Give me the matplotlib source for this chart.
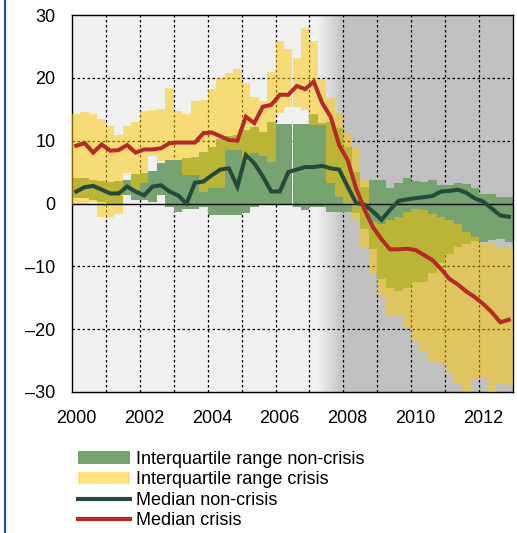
import matplotlib.pyplot as plt
import numpy as np
from matplotlib.lines import Line2D
from matplotlib.patches import Patch

plt.rcParams['font.family'] = ['Liberation Sans', 'DejaVu Sans']

# quarterly values, 2000Q1 .. 2012Q4
# interquartile range, non-crisis countries
nc_low = [0.8, 0.8, 0.5, 0.2, -0.3, -0.3, 1.3, 0.5, 0.5, 0.3, 1.3, -0.5,
          -1.3, -0.8, -0.9, -0.6, -1.9, -1.9, -1.9, -1.9, -1.5, -0.5, -0.1, -0.2,
          -0.2, -0.2, -0.5, -1.1, -0.6, -0.6, -1.3, -1.3, -1.3, -1.5, -4.0, -7.2,
          -12.0, -13.5, -14.0, -13.5, -12.5, -12.5, -11.0, -9.5, -8.0, -7.0, -6.5, -6.0,
          -6.2, -5.8, -5.6, -6.2]
nc_high = [4.0, 4.1, 3.8, 3.6, 3.5, 3.6, 3.8, 4.7, 4.8, 5.2, 6.5, 6.9,
           7.0, 7.2, 7.4, 8.2, 9.0, 10.2, 10.7, 10.9, 11.7, 12.1, 11.4, 13.0,
           12.6, 12.6, 12.6, 12.7, 14.3, 12.8, 13.0, 12.0, 9.0, 5.0, 2.7, 3.8,
           3.8, 2.4, 3.2, 4.0, 3.6, 3.5, 3.7, 2.9, 2.9, 3.2, 3.1, 2.4,
           1.5, 1.5, 1.0, 1.0]
# interquartile range, crisis countries
cr_low = [-0.3, -0.3, 0.3, -2.2, -2.2, -1.7, 4.8, 2.1, 3.2, 7.5, 6.7, 6.9,
          6.9, 4.5, 4.5, 1.9, 2.4, 2.4, 8.5, 8.5, 6.6, 8.0, 7.5, 6.6,
          14.4, 15.4, 15.4, 14.9, 12.5, 12.5, 3.2, 1.0, 0.0, -2.5, -7.0, -11.2,
          -14.6, -17.8, -17.8, -19.7, -22.1, -23.6, -25.2, -25.5, -27.1, -28.7, -29.8, -27.9,
          -27.6, -30.2, -28.7, -29.0]
cr_high = [14.2, 14.5, 14.2, 13.5, 12.3, 10.9, 12.4, 13.0, 14.8, 14.9, 15.1, 18.4,
           14.7, 14.3, 16.3, 16.5, 18.2, 19.9, 20.7, 21.4, 19.1, 17.0, 16.3, 21.0,
           25.8, 24.6, 23.1, 28.0, 25.9, 19.8, 16.8, 14.4, 11.1, 8.8, 3.8, -3.0,
           -3.2, -2.6, -2.1, -1.3, -0.8, -1.0, -1.6, -2.1, -2.6, -3.2, -4.5, -5.3,
           -6.4, -6.4, -6.9, -6.9]
# medians
nc_median = [1.9, 2.6, 2.8, 2.2, 1.6, 1.6, 2.7, 1.9, 1.3, 2.7, 2.9, 1.9,
             1.3, 0.0, 3.3, 3.5, 4.5, 5.4, 5.6, 2.7, 7.7, 6.4, 4.3, 1.9,
             1.9, 5.0, 5.4, 5.8, 5.8, 6.0, 5.6, 5.4, 2.7, 0.1, -0.2, -1.3,
             -2.6, -1.0, 0.4, 0.65, 0.85, 1.0, 1.2, 1.9, 2.0, 2.2, 1.7, 0.8,
             0.3, -0.8, -1.9, -2.1]
cr_median = [9.2, 9.6, 8.1, 9.4, 8.4, 8.5, 9.3, 8.1, 8.6, 8.6, 8.8, 9.6,
             9.7, 9.7, 9.7, 11.2, 11.3, 10.7, 10.1, 10.0, 13.8, 12.8, 15.4, 15.7,
             17.3, 17.3, 18.7, 18.2, 19.4, 16.0, 13.8, 9.3, 6.9, 2.4, -1.0, -3.8,
             -5.7, -7.3, -7.3, -7.2, -7.4, -8.2, -9.0, -10.4, -12.0, -12.9, -14.0, -14.9,
             -16.0, -17.3, -18.9, -18.5]

year_labels = ['2000', '2002', '2004', '2006', '2008', '2010', '2012']
y_ticks = [30, 20, 10, 0, -10, -20, -30]
y_labels = ['30', '20', '10', '0', '–10', '–20', '–30']
legend_labels = ['Interquartile range non-crisis', 'Interquartile range crisis',
                 'Median non-crisis', 'Median crisis']

green = '#76A370'
yellow = '#FFC800'
dark = '#254A3A'
red = '#B32A26'

x = 2000.125 + 0.25 * np.arange(len(cr_median))
nc_low, nc_high = np.array(nc_low), np.array(nc_high)
cr_low, cr_high = np.array(cr_low), np.array(cr_high)

fig = plt.figure(figsize=(5.17, 5.33), dpi=100)
ax = fig.add_axes([72 / 517, 1 - 392 / 533, 441 / 517, 377 / 533])
ax.set_facecolor('#F0F0F0')

# crisis shading, stepped gradient into grey
steps = np.linspace(2007.25, 2008.0, 9)
shades = np.linspace(0.93, 0.77, 8)
for i in range(8):
    ax.axvspan(steps[i], steps[i + 1], color=str(shades[i]), lw=0, zorder=0)
ax.axvspan(2008.0, 2013.0, color='#C0C0C0', lw=0, zorder=0)

# grid
for yr in range(2001, 2013):
    ax.axvline(yr, color='black', lw=0.9, ls=(0, (2, 2)), zorder=1)
for yv in [-20, -10, 10, 20]:
    ax.axhline(yv, color='black', lw=0.9, ls=(0, (2, 2)), zorder=1)

ax.bar(x, nc_high - nc_low, bottom=nc_low, width=0.25, color=green, lw=0, zorder=2)
ax.bar(x, cr_high - cr_low, bottom=cr_low, width=0.25, color=yellow, alpha=0.5, lw=0, zorder=3)
ax.axhline(0, color='black', lw=1.0, zorder=4)
ax.plot(x, nc_median, color=dark, lw=2.9, zorder=5, solid_joinstyle='miter')
ax.plot(x, cr_median, color=red, lw=2.9, zorder=6, solid_joinstyle='miter')

ax.set_xlim(2000, 2013)
ax.set_ylim(-30, 30)
ax.set_xticks([int(l) + 0.125 for l in year_labels])
ax.set_xticklabels(year_labels)
ax.set_yticks(y_ticks)
ax.set_yticklabels(y_labels)
ax.tick_params(length=0, labelsize=13)
ax.tick_params(axis='x', pad=13)
ax.tick_params(axis='y', pad=12)
for s in ax.spines.values():
    s.set_linewidth(1.0)
    s.set_color('black')

handles = [Patch(facecolor=green, lw=0),
           Patch(facecolor=yellow, alpha=0.5, lw=0),
           Line2D([], [], color=dark, lw=3),
           Line2D([], [], color=red, lw=3)]
fig.legend(handles, legend_labels, loc='upper left', bbox_to_anchor=(78 / 517, 1 - 451 / 533),
           frameon=False, fontsize=13, handlelength=2.9, handletextpad=0.3,
           labelspacing=0.19, borderaxespad=0, borderpad=0)

fig.add_artist(Line2D([5 / 517, 5 / 517], [0, 1], color='#1F4E9C', lw=1.5))

fig.savefig('out.png', dpi=100)
